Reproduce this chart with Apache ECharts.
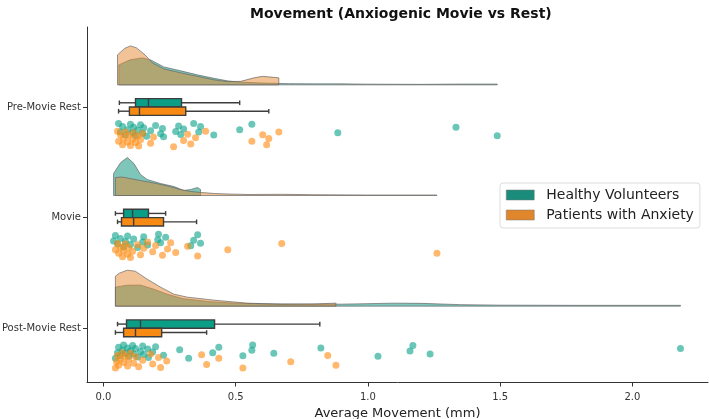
<!DOCTYPE html>
<html>
<head>
<meta charset="utf-8">
<title>Movement raincloud</title>
<script src="https://cdn.jsdelivr.net/npm/echarts@6/dist/echarts.min.js"></script>
<style>
  html, body { margin: 0; padding: 0; background: #fff; }
  #main { width: 709px; height: 419px; }
</style>
</head>
<body>
<div id="main"></div>
<script>
// categories, top to bottom
const categories = ["Pre-Movie Rest", "Movie", "Post-Movie Rest"];
const groups = ["Healthy Volunteers", "Patients with Anxiety"];
const xTicks = [0, 0.5, 1, 1.5, 2];

// raw points (average movement, mm) per category
const healthyPoints = [
  [0.057, 0.064, 0.072, 0.083, 0.091, 0.102, 0.110, 0.114, 0.121, 0.129, 0.140, 0.148, 0.152, 0.163, 0.178, 0.197,
   0.216, 0.223, 0.227, 0.273, 0.284, 0.292, 0.303, 0.341, 0.360, 0.367, 0.417, 0.515, 0.561, 0.886, 1.333, 1.489],
  [0.038, 0.045, 0.053, 0.064, 0.076, 0.083, 0.091, 0.102, 0.114, 0.129, 0.148, 0.152, 0.167, 0.205, 0.208, 0.216,
   0.235, 0.330, 0.341, 0.356, 0.367],
  [0.045, 0.053, 0.057, 0.064, 0.072, 0.076, 0.083, 0.091, 0.095, 0.102, 0.110, 0.114, 0.121, 0.129, 0.140, 0.148,
   0.152, 0.167, 0.170, 0.186, 0.197, 0.227, 0.288, 0.322, 0.413, 0.436, 0.527, 0.561, 0.564, 0.644, 0.822, 1.038,
   1.159, 1.170, 1.235, 2.182]
];
const anxietyPoints = [
  [0.053, 0.057, 0.064, 0.072, 0.076, 0.083, 0.091, 0.095, 0.102, 0.110, 0.114, 0.121, 0.129, 0.133, 0.140, 0.148,
   0.178, 0.189, 0.265, 0.303, 0.318, 0.330, 0.348, 0.386, 0.561, 0.602, 0.617, 0.625, 0.663],
  [0.045, 0.053, 0.057, 0.064, 0.072, 0.076, 0.083, 0.091, 0.095, 0.102, 0.110, 0.129, 0.140, 0.152, 0.167, 0.186,
   0.197, 0.223, 0.242, 0.254, 0.273, 0.318, 0.356, 0.470, 0.674, 1.261],
  [0.045, 0.049, 0.053, 0.057, 0.064, 0.072, 0.076, 0.083, 0.091, 0.095, 0.102, 0.114, 0.121, 0.133, 0.148, 0.178,
   0.186, 0.208, 0.216, 0.239, 0.371, 0.390, 0.436, 0.527, 0.708, 0.848, 0.879]
];

// box stats: [whisker low, Q1, median, Q3, whisker high]
const healthyBox = [
  [0.060, 0.121, 0.170, 0.295, 0.515],
  [0.045, 0.076, 0.110, 0.170, 0.235],
  [0.053, 0.087, 0.140, 0.420, 0.818]
];
const anxietyBox = [
  [0.057, 0.098, 0.136, 0.311, 0.625],
  [0.053, 0.068, 0.114, 0.227, 0.352],
  [0.045, 0.076, 0.121, 0.220, 0.390]
];

// half-violin density outlines: [x, height]
const healthyKde = [
  [[0.058, 20], [0.10, 25], [0.146, 27], [0.178, 25], [0.228, 18], [0.292, 14], [0.355, 10], [0.418, 6.5],
   [0.468, 4], [0.519, 2.7], [0.60, 1.8], [0.70, 1.2], [0.80, 1], [0.90, 1], [1.0, 0.7], [1.2, 0.5], [1.35, 0.8], [1.489, 0.8]],
  [[0.038, 22], [0.065, 33], [0.09, 38], [0.115, 32], [0.14, 21], [0.165, 16], [0.216, 12], [0.266, 9],
   [0.304, 5], [0.33, 6], [0.355, 8], [0.367, 6]],
  [[0.045, 19], [0.09, 21], [0.14, 21], [0.19, 17], [0.24, 12], [0.30, 7.5], [0.40, 4.5], [0.50, 3], [0.60, 2.3],
   [0.75, 2], [0.90, 2], [1.0, 2.5], [1.1, 3], [1.2, 2.8], [1.35, 1.5], [1.5, 1], [1.8, 0.8], [2.182, 0.8]]
];
const anxietyKde = [
  [[0.053, 30], [0.08, 36.5], [0.102, 39], [0.125, 37], [0.157, 30], [0.185, 22], [0.228, 16], [0.292, 12],
   [0.355, 8.5], [0.418, 5], [0.468, 3.3], [0.519, 3.5], [0.569, 7], [0.601, 8.5], [0.645, 7.5], [0.663, 7]],
  [[0.045, 18], [0.07, 18.5], [0.10, 17], [0.14, 15], [0.20, 12], [0.25, 9], [0.29, 6], [0.33, 4], [0.37, 3],
   [0.42, 2], [0.47, 1.5], [0.55, 1], [0.67, 1.2], [0.80, 0.8], [1.0, 0.5], [1.261, 0.5]],
  [[0.045, 30], [0.06, 33], [0.09, 36], [0.12, 35], [0.165, 27], [0.216, 19], [0.266, 12], [0.317, 9],
   [0.418, 6], [0.544, 3], [0.67, 2], [0.797, 2.2], [0.879, 3]]
];

const teal = "#0a9e87";
const orange = "#f78a12";

// layout helpers (y units = one category step)
const KDE_BASE = -0.2;
const KDE_SCALE = 1 / 110.7;
const BOX_H = 0.076;

function kdeRender(curves, fill) {
  return function (params, api) {
    const c = params.dataIndex;
    const pts = curves[c];
    const base = c + KDE_BASE;
    const poly = [api.coord([pts[0][0], base])];
    pts.forEach(p => poly.push(api.coord([p[0], base - p[1] * KDE_SCALE])));
    poly.push(api.coord([pts[pts.length - 1][0], base]));
    return {
      type: "polygon",
      shape: { points: poly },
      style: { fill: fill, stroke: "rgba(100,100,100,0.85)", lineWidth: 0.8 }
    };
  };
}

function boxRender(stats, offset, color) {
  return function (params, api) {
    const c = params.dataIndex;
    const s = stats[c];
    const yc = c + offset + BOX_H / 2;
    const top = api.coord([s[1], c + offset]);
    const bot = api.coord([s[3], c + offset + BOX_H]);
    const lo = api.coord([s[0], yc]);
    const q1 = api.coord([s[1], yc]);
    const q3 = api.coord([s[3], yc]);
    const hi = api.coord([s[4], yc]);
    const med = api.coord([s[2], yc]);
    const line = { stroke: "#3d3d3d", lineWidth: 1.4 };
    const cap = 2.3;
    return {
      type: "group",
      children: [
        { type: "line", shape: { x1: lo[0], y1: lo[1], x2: q1[0], y2: q1[1] }, style: line },
        { type: "line", shape: { x1: q3[0], y1: q3[1], x2: hi[0], y2: hi[1] }, style: line },
        { type: "line", shape: { x1: lo[0], y1: lo[1] - cap, x2: lo[0], y2: lo[1] + cap }, style: line },
        { type: "line", shape: { x1: hi[0], y1: hi[1] - cap, x2: hi[0], y2: hi[1] + cap }, style: line },
        {
          type: "rect",
          shape: { x: top[0], y: top[1], width: bot[0] - top[0], height: bot[1] - top[1] },
          style: { fill: color, stroke: "#3d3d3d", lineWidth: 1.4 }
        },
        { type: "line", shape: { x1: med[0], y1: top[1], x2: med[0], y2: bot[1] }, style: line }
      ]
    };
  };
}

// jitter below the box, spread by index
function cloud(points, center, spread) {
  const out = [];
  points.forEach((vals, c) => {
    vals.forEach((v, i) => {
      const u = ((i * 37 + c * 11) % 23) / 22;
      out.push([v, c + center + (u - 0.5) * spread]);
    });
  });
  return out;
}

const myChart = echarts.init(document.getElementById("main"));
myChart.setOption({
  animation: false,
  textStyle: { fontFamily: "DejaVu Sans" },
  title: {
    text: "Movement (Anxiogenic Movie vs Rest)",
    left: 245,
    top: 2,
    textStyle: { fontSize: 14, fontWeight: "bold", color: "#111" }
  },
  legend: {
    orient: "vertical",
    left: 500,
    top: 183,
    itemWidth: 28,
    itemHeight: 10,
    itemGap: 6,
    padding: [5, 6, 6, 6],
    borderColor: "#dcdcdc",
    borderWidth: 1,
    borderRadius: 3,
    backgroundColor: "#fff",
    textStyle: { fontSize: 14, color: "#222", padding: [0, 0, 0, 7] },
    data: [
      { name: groups[0], icon: "rect", itemStyle: { color: "#1a8c7b", borderColor: "#777", borderWidth: 0.5 } },
      { name: groups[1], icon: "rect", itemStyle: { color: "#e0872e", borderColor: "#777", borderWidth: 0.5 } }
    ]
  },
  grid: { left: 87, right: 1, top: 27, bottom: 36.5, outerBoundsMode: "none" },
  xAxis: {
    type: "value",
    min: -0.0624,
    max: 2.286,
    name: "Average Movement (mm)",
    nameLocation: "middle",
    nameGap: 20,
    nameTextStyle: { fontSize: 13, color: "#222" },
    axisLine: { show: true, onZero: false, lineStyle: { color: "#333", width: 1 } },
    axisTick: { show: true, customValues: xTicks, length: 4, lineStyle: { color: "#333" } },
    axisLabel: { customValues: xTicks, formatter: v => v.toFixed(1), fontSize: 10, color: "#333", margin: 10 },
    splitLine: { show: false }
  },
  yAxis: {
    type: "value",
    inverse: true,
    min: -0.723,
    max: 2.49,
    axisLine: { show: true, onZero: false, lineStyle: { color: "#333", width: 1 } },
    axisTick: { show: true, customValues: [0, 1, 2], length: 4, lineStyle: { color: "#333" } },
    axisLabel: {
      customValues: [0, 1, 2],
      formatter: v => categories[Math.round(v)],
      fontSize: 10,
      color: "#333",
      margin: 6
    },
    splitLine: { show: false }
  },
  series: [
    {
      name: groups[0], type: "custom", z: 1,
      renderItem: kdeRender(healthyKde, "rgba(20,150,130,0.55)"),
      data: healthyKde.map((k, c) => [k[0][0], c])
    },
    {
      name: groups[1], type: "custom", z: 2,
      renderItem: kdeRender(anxietyKde, "rgba(228,135,45,0.5)"),
      data: anxietyKde.map((k, c) => [k[0][0], c])
    },
    {
      name: groups[0], type: "custom", z: 3,
      renderItem: boxRender(healthyBox, -BOX_H, teal),
      data: healthyBox.map((b, c) => [b[2], c])
    },
    {
      name: groups[1], type: "custom", z: 3,
      renderItem: boxRender(anxietyBox, 0, orange),
      data: anxietyBox.map((b, c) => [b[2], c])
    },
    {
      name: groups[0], type: "scatter", z: 4,
      symbolSize: 7,
      itemStyle: { color: "#0fa58c", opacity: 0.62 },
      data: cloud(healthyPoints, 0.21, 0.12)
    },
    {
      name: groups[1], type: "scatter", z: 5,
      symbolSize: 7,
      itemStyle: { color: "#ff8c14", opacity: 0.62 },
      data: cloud(anxietyPoints, 0.29, 0.14)
    }
  ]
});
window.addEventListener("resize", () => myChart.resize());
</script>
</body>
</html>
